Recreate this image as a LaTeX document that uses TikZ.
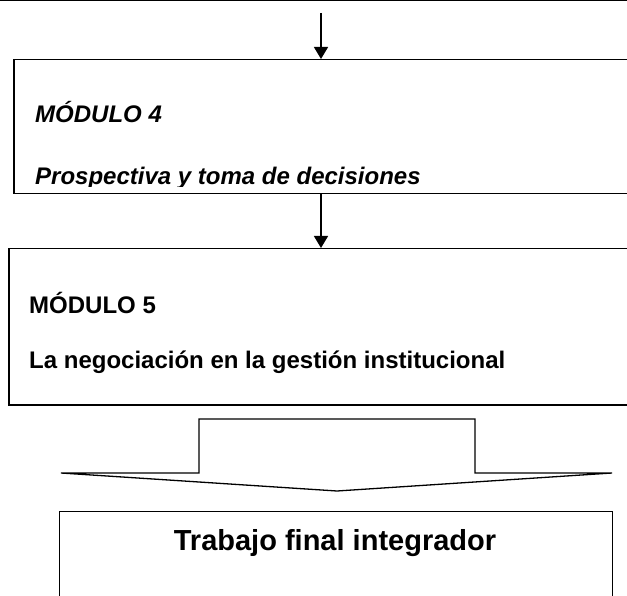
\documentclass[tikz,border=0pt]{standalone}
\usepackage{fontspec}
\setmainfont{Liberation Sans}
\usetikzlibrary{arrows.meta}
\tikzset{
	modbox/.style={draw, line width=1.5pt, rectangle, anchor=north west, inner sep=0pt},
	modtext/.style={anchor=base west, inner sep=0pt, font=\fontsize{24}{28}\selectfont\bfseries},
	modtexti/.style={modtext, font=\fontsize{24}{28}\selectfont\bfseries\itshape},
	flecha/.style={-{Triangle[length=12pt,width=14pt]}, line width=1.3pt},
}
\begin{document}
\begin{tikzpicture}[x=1pt,y=-1pt]
	\useasboundingbox (0,0) rectangle (627,596);
%	modulo 3: solo se ve el borde de abajo
	\node[modbox, line width=3pt, minimum width=680pt, minimum height=60pt, anchor=south west] (m3) at (-20,1.5) {};
	\node[modbox, minimum width=640pt, minimum height=134pt] (m4) at (13,59) {};
	\node[modbox, minimum width=640pt, minimum height=156pt] (m5) at (8,248) {};
	\node[modbox, line width=1.3pt, minimum width=553pt, minimum height=120pt] (tfi) at (59,511) {};
%	textos
	\node[modtexti] (m4a) at (35,123) {MÓDULO 4};
	\begin{scope}
		\clip (13,59) rectangle (627,186.5);
		\node[modtexti] (m4b) at (35,184.5) {Prospectiva y toma de decisiones};
	\end{scope}
	\node[modtext] (m5a) at (29,313) {MÓDULO 5};
	\node[modtext] (m5b) at (29,368) {La negociación en la gestión institucional};
	\node[anchor=base, inner sep=0pt, font=\fontsize{29}{34}\selectfont\bfseries] (tfa) at (335,550) {Trabajo final integrador};
%	flechas
	\coordinate (a1) at (321,13);
	\draw[flecha] (a1) -- (a1 |- m4.north);
	\draw[flecha] (a1 |- m4.south) -- (a1 |- m5.north);
	\draw[line width=1.3pt] (199,473) -- (199,419) -- (475,419) -- (475,473) -- (612,473) -- (337,491) -- (61,473) -- cycle;
\end{tikzpicture}
\end{document}
